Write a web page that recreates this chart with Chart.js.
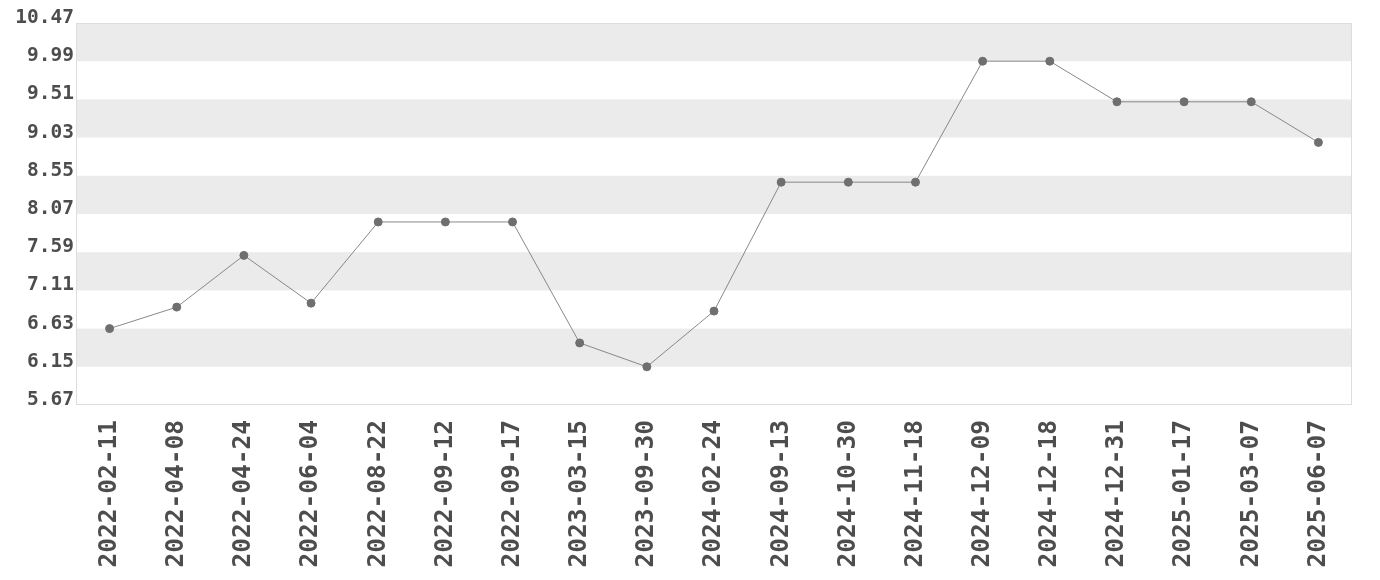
<!DOCTYPE html>
<html>
<head>
<meta charset="utf-8">
<script src="https://cdn.jsdelivr.net/npm/chart.js@4/dist/chart.umd.min.js"></script>
<style>
  html, body { margin: 0; padding: 0; background: #fff; }
  #wrap { width: 1380px; height: 580px; }
</style>
</head>
<body>
<div id="wrap"><canvas id="linhas"></canvas></div>
<script>
const datas = [
  "2022-02-11", "2022-04-08", "2022-04-24", "2022-06-04", "2022-08-22",
  "2022-09-12", "2022-09-17", "2023-03-15", "2023-09-30", "2024-02-24",
  "2024-09-13", "2024-10-30", "2024-11-18", "2024-12-09", "2024-12-18",
  "2024-12-31", "2025-01-17", "2025-03-07", "2025-06-07"
];
const valores = [
  6.63, 6.90, 7.55, 6.95, 7.97,
  7.97, 7.97, 6.45, 6.15, 6.85,
  8.47, 8.47, 8.47, 9.99, 9.99,
  9.48, 9.48, 9.48, 8.97
];
const eixoMin = 5.67;
const eixoMax = 10.47;
const passo = 0.48;

// faixas alternadas cinza/branco entre os ticks
const faixas = {
  id: "faixas",
  beforeDatasetsDraw(chart) {
    const { ctx, chartArea, scales } = chart;
    const y = scales.y;
    const ticks = y.ticks;
    ctx.save();
    for (let i = 0; i < ticks.length - 1; i++) {
      if (i % 2 === 1) {
        const y1 = y.getPixelForValue(ticks[i].value);
        const y2 = y.getPixelForValue(ticks[i + 1].value);
        ctx.fillStyle = "#ebebeb";
        ctx.fillRect(chartArea.left, y2, chartArea.right - chartArea.left, y1 - y2);
      }
    }
    ctx.strokeStyle = "#dddddd";
    ctx.lineWidth = 1;
    ctx.strokeRect(chartArea.left + 0.5, chartArea.top + 0.5,
      chartArea.right - chartArea.left - 1, chartArea.bottom - chartArea.top - 1);
    ctx.restore();
  }
};

const fonteX = { family: "'DejaVu Sans Mono', monospace", size: 24.5, weight: "bold" };
const fonteY = { family: "'DejaVu Sans Mono', monospace", size: 19.5, weight: "bold" };

const ctx = document.getElementById("linhas");
window.myCharts = new Chart(ctx, {
  type: "line",
  data: {
    labels: datas,
    datasets: [
      {
        data: valores,
        borderColor: "#888888",
        borderWidth: 1,
        backgroundColor: "#6f6f6f",
        pointBackgroundColor: "#6f6f6f",
        pointBorderColor: "#6f6f6f",
        pointBorderWidth: 1,
        pointRadius: 4,
        tension: 0,
      },
    ],
  },
  options: {
    responsive: true,
    maintainAspectRatio: false,
    animation: false,
    layout: { padding: { top: 23, right: 28, bottom: 0, left: 0 } },
    plugins: { legend: { display: false }, tooltip: { enabled: false } },
    scales: {
      x: {
        offset: true,
        grid: { display: false, drawTicks: false },
        border: { display: false },
        afterFit: (escala) => { escala.height = 175; },
        ticks: {
          color: "#4d4d4d",
          font: fonteX,
          minRotation: 90,
          maxRotation: 90,
          autoSkip: false,
          padding: 15,
        },
      },
      y: {
        min: eixoMin,
        max: eixoMax,
        grid: { display: false, drawTicks: false },
        border: { display: false },
        afterFit: (escala) => { escala.width = 76; },
        ticks: {
          stepSize: passo,
          color: "#4d4d4d",
          font: fonteY,
          padding: 2,
          labelOffset: -5,
          callback: (v) => v.toFixed(2),
        },
      },
    },
  },
  plugins: [faixas],
});
</script>
</body>
</html>
